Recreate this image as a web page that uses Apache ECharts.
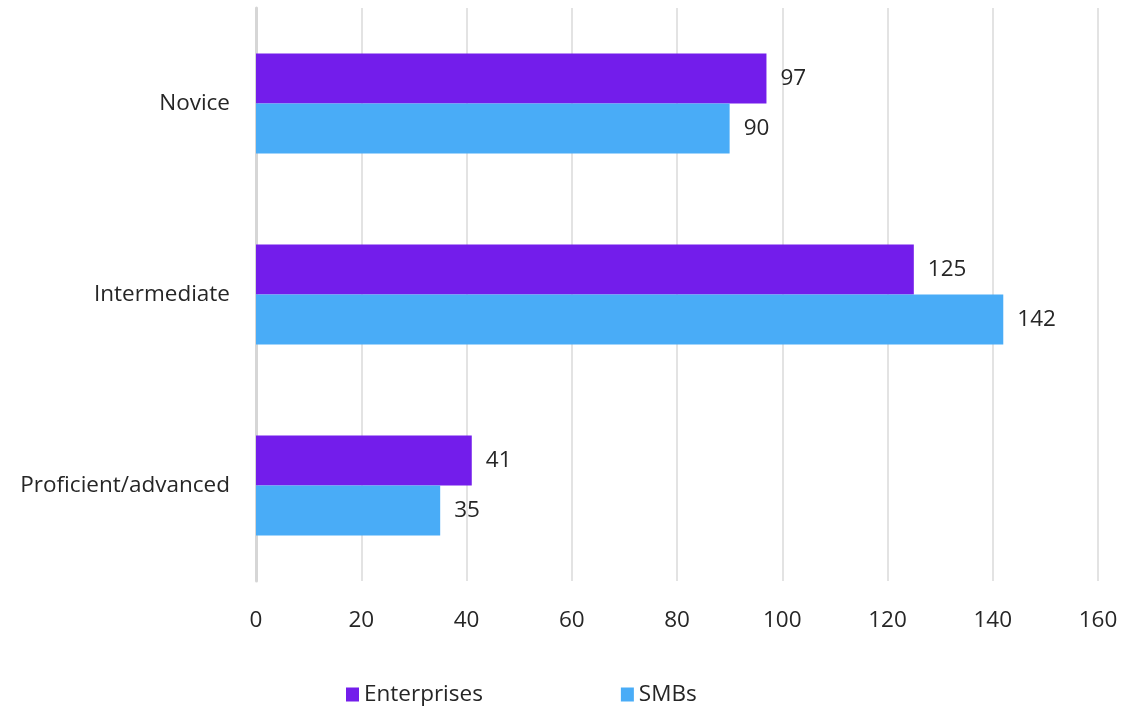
<!DOCTYPE html>
<html>
<head>
<meta charset="utf-8">
<style>
  html, body { margin: 0; padding: 0; background: #fff; }
  #chart { width: 1129px; height: 708px; }
</style>
<script src="https://cdn.jsdelivr.net/npm/echarts@6/dist/echarts.min.js"></script>
</head>
<body>
<div id="chart"></div>
<script>
// chart data
var categories = ['Novice', 'Intermediate', 'Proficient/advanced'];
var enterprises = [97, 125, 41];
var smbs = [90, 142, 35];
var xTicks = [0, 20, 40, 60, 80, 100, 120, 140, 160];

var chart = echarts.init(document.getElementById('chart'));
var font = '"Open Sans", sans-serif';
var fs = 22.5;

var option = {
    animation: false,
    grid: {
        left: 256,
        right: 31,
        top: 8,
        bottom: 127
    },
    legend: {
        data: ['Enterprises', 'SMBs'],
        left: 341,
        top: 678,
        itemWidth: 13,
        itemHeight: 14,
        itemGap: 138,
        itemStyle: { borderWidth: 0 },
        icon: 'rect',
        textStyle: {
            color: '#262626',
            fontSize: fs,
            fontFamily: font
        }
    },
    xAxis: {
        type: 'value',
        min: xTicks[0],
        max: xTicks[xTicks.length - 1],
        interval: 20,
        axisLine: { show: false },
        axisTick: { show: false },
        splitLine: {
            show: true,
            lineStyle: { color: '#e3e3e3', width: 2 }
        },
        axisLabel: {
            color: '#262626',
            fontSize: fs,
            fontFamily: font,
            margin: 28
        }
    },
    yAxis: {
        type: 'category',
        inverse: true,
        data: categories,
        axisTick: { show: false },
        axisLine: {
            show: true,
            lineStyle: { color: '#d6d6d6', width: 3 }
        },
        axisLabel: {
            color: '#262626',
            fontSize: fs,
            fontFamily: font,
            margin: 26,
            padding: [3, 0, 0, 0]
        }
    },
    series: [
        {
            name: 'Enterprises',
            type: 'bar',
            data: enterprises,
            barWidth: 50,
            barGap: '0%',
            itemStyle: { color: '#731deb' },
            label: {
                show: true,
                position: 'right',
                distance: 14,
                color: '#262626',
                fontSize: fs,
                fontFamily: font,
                padding: [3, 0, 0, 0]
            }
        },
        {
            name: 'SMBs',
            type: 'bar',
            data: smbs,
            barWidth: 50,
            barGap: '0%',
            itemStyle: { color: '#49acf7' },
            label: {
                show: true,
                position: 'right',
                distance: 14,
                color: '#262626',
                fontSize: fs,
                fontFamily: font,
                padding: [3, 0, 0, 0]
            }
        }
    ]
};

chart.setOption(option);
window.addEventListener('resize', function () {
    chart.resize();
});
</script>
</body>
</html>
